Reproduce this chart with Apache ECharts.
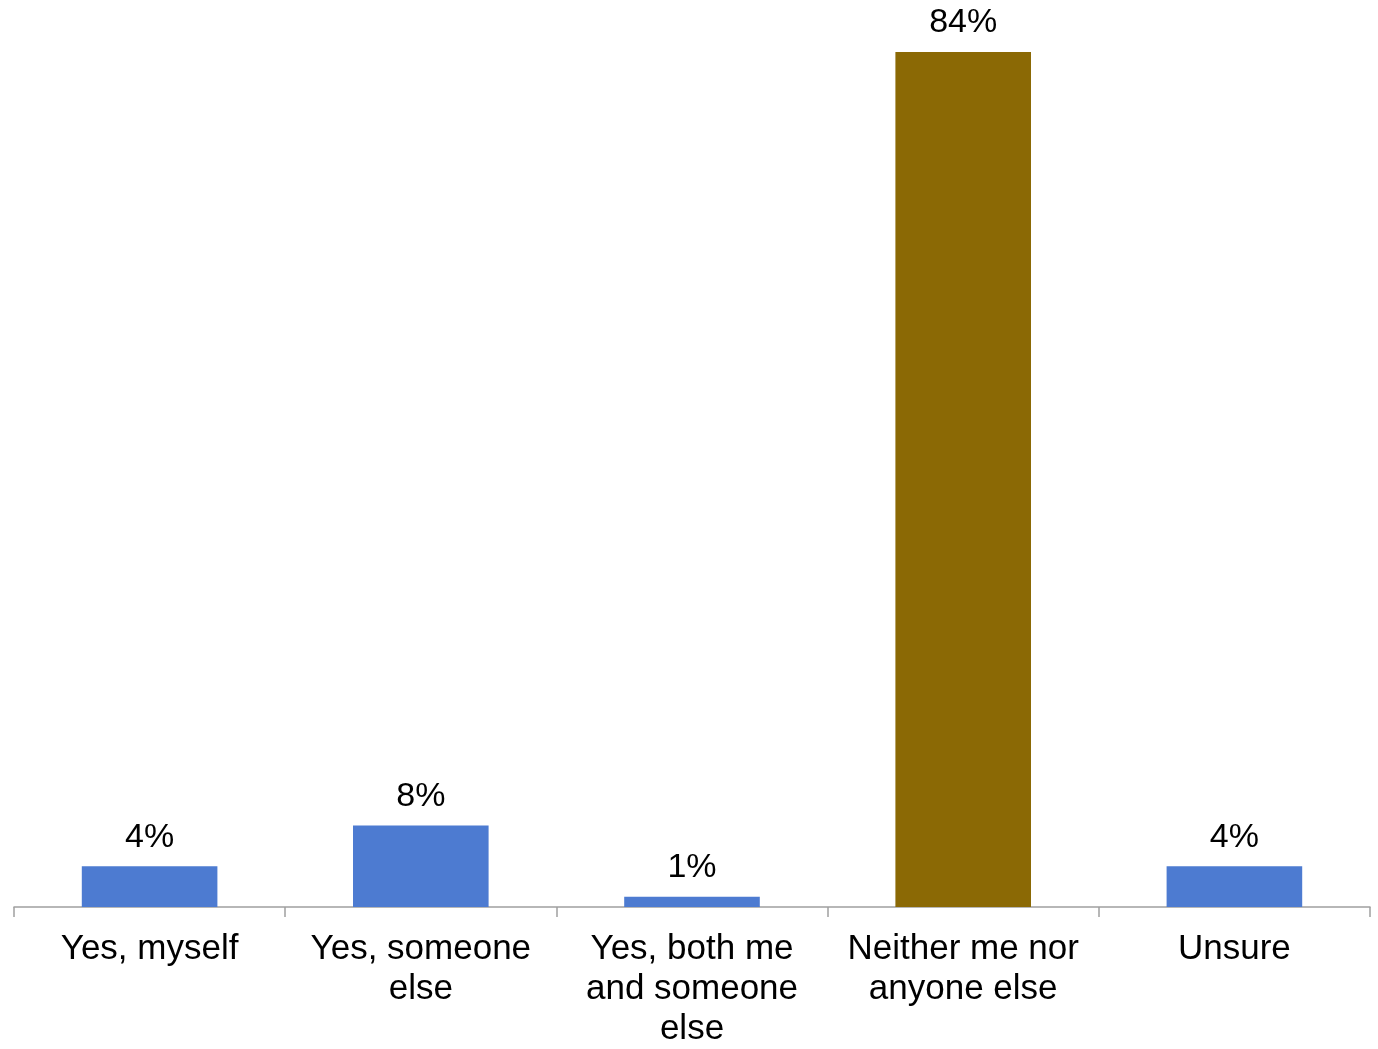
<!DOCTYPE html>
<html>
<head>
<meta charset="utf-8">
<script src="https://cdn.jsdelivr.net/npm/echarts@6/dist/echarts.min.js"></script>
<style>html,body{margin:0;padding:0;background:#fff;}#c{width:1378px;height:1049px;}</style>
</head>
<body>
<div id="c"></div>
<script>
const categories = ["Yes, myself", "Yes, someone\nelse", "Yes, both me\nand someone\nelse", "Neither me nor\nanyone else", "Unsure"];
const values = [4, 8, 1, 84, 4];
const barColors = ["#4D7BD1", "#4D7BD1", "#4D7BD1", "#8B6905", "#4D7BD1"];

const chart = echarts.init(document.getElementById('c'));
chart.setOption({
  animation: false,
  grid: {left: 14, right: 8, top: 52, bottom: 137, containLabel: false},
  xAxis: {
    type: 'category',
    data: categories,
    axisLine: {lineStyle: {color: '#A0A0A0', width: 1.5}},
    axisTick: {show: true, length: 10, lineStyle: {color: '#A0A0A0', width: 1.5}},
    axisLabel: {color: '#000', fontFamily: 'Liberation Sans, Arial', fontSize: 35, lineHeight: 40, margin: 22, interval: 0}
  },
  yAxis: {type: 'value', min: 0, max: 84, show: false, splitLine: {show: false}},
  series: [{
    type: 'bar',
    barWidth: '50%',
    data: values.map((v, i) => ({value: v, itemStyle: {color: barColors[i]}})),
    label: {show: true, position: 'top', distance: 12, formatter: '{c}%', color: '#000', fontFamily: 'Liberation Sans, Arial', fontSize: 34}
  }]
});
</script>
</body>
</html>
